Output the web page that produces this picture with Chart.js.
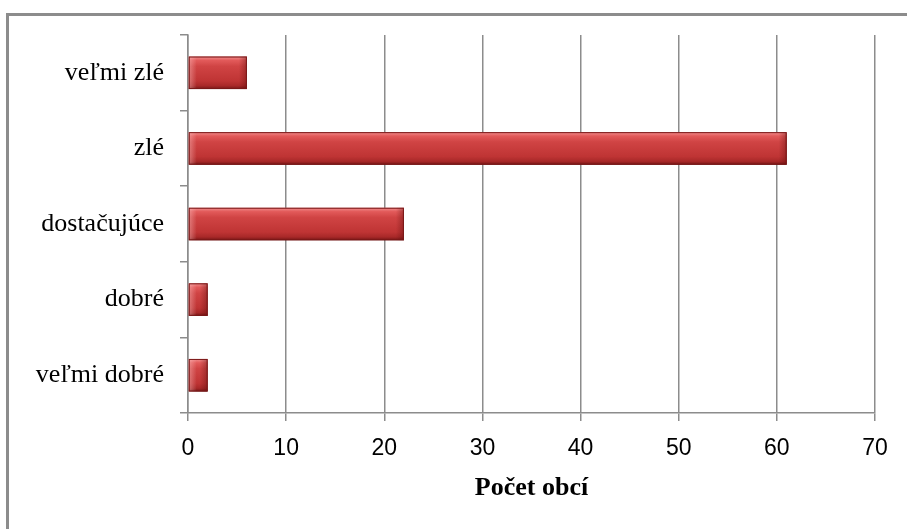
<!DOCTYPE html>
<html>
<head>
<meta charset="utf-8">
<script src="https://cdn.jsdelivr.net/npm/chart.js@4.4.1/dist/chart.umd.min.js"></script>
<style>
  html, body { margin: 0; padding: 0; background: #fff; }
  #wrap { position: relative; width: 907px; height: 529px; overflow: hidden; }
  #frame { position: absolute; left: 6px; top: 13px; width: 1000px; height: 600px;
           border: 3px solid #8c8c8c; box-sizing: border-box; }
  canvas { position: absolute; left: 0; top: 0; }
</style>
</head>
<body>
<div id="wrap">
  <div id="frame"></div>
  <canvas id="chart" width="907" height="529"></canvas>
</div>
<script>
// hodnotenie -> pocet obci
var categories = ['veľmi zlé', 'zlé', 'dostačujúce', 'dobré', 'veľmi dobré'];
var counts = [6, 61, 22, 2, 2];
var xTicks = [0, 10, 20, 30, 40, 50, 60, 70];

var gridGray = '#8c8c8c';

// shadow under bars, then a bevel-like shading painted over each bar element
var barShading = {
	id: 'barShading',
	beforeDatasetsDraw: function(chart) {
		var ctx = chart.ctx;
		ctx.save();
		ctx.shadowColor = 'rgba(0,0,0,0.35)';
		ctx.shadowBlur = 5;
		ctx.shadowOffsetX = 2;
		ctx.shadowOffsetY = 3;
	},
	afterDatasetsDraw: function(chart) {
		var ctx = chart.ctx;
		ctx.restore();
		chart.getDatasetMeta(0).data.forEach(function(bar) {
			var left = Math.min(bar.base, bar.x);
			var right = Math.max(bar.base, bar.x);
			var top = bar.y - bar.height / 2;
			var bottom = bar.y + bar.height / 2;
			var g = ctx.createLinearGradient(0, top, 0, bottom);
			g.addColorStop(0, '#f29090');
			g.addColorStop(0.12, '#e25a5a');
			g.addColorStop(0.3, '#d04444');
			g.addColorStop(0.75, '#bf3434');
			g.addColorStop(0.9, '#a82828');
			g.addColorStop(1, '#741616');
			ctx.save();
			ctx.fillStyle = g;
			ctx.fillRect(left, top, right - left, bottom - top);
			// left bevel
			var bev = Math.min(8, (right - left) / 2);
			var gl = ctx.createLinearGradient(left, 0, left + bev, 0);
			gl.addColorStop(0, 'rgba(255,200,200,0.45)');
			gl.addColorStop(1, 'rgba(255,200,200,0)');
			ctx.fillStyle = gl;
			ctx.fillRect(left, top, bev, bottom - top);
			// right bevel
			var gr = ctx.createLinearGradient(right - bev, 0, right, 0);
			gr.addColorStop(0, 'rgba(90,10,10,0)');
			gr.addColorStop(1, 'rgba(90,10,10,0.4)');
			ctx.fillStyle = gr;
			ctx.fillRect(right - bev, top, bev, bottom - top);
			ctx.strokeStyle = '#7a1818';
			ctx.lineWidth = 1;
			ctx.strokeRect(left + 0.5, top + 0.5, right - left - 1, bottom - top - 1);
			ctx.restore();
		});
	}
};

var ctx = document.getElementById('chart');
new Chart(ctx, {
	type: 'bar',
	data: {
		labels: categories,
		datasets: [{
			label: 'Počet obcí',
			data: counts,
			backgroundColor: '#c83636',
			borderColor: '#7a1818',
			borderWidth: 1,
			categoryPercentage: 1,
			barPercentage: 0.43
		}]
	},
	options: {
		indexAxis: 'y',
		responsive: false,
		animation: false,
		layout: {
			padding: { left: 0, top: 35, right: 32, bottom: 0 }
		},
		plugins: {
			legend: { display: false },
			tooltip: { enabled: false }
		},
		scales: {
			x: {
				min: 0,
				max: 70,
				afterBuildTicks: function(scale) {
					scale.ticks = xTicks.map(function(v) { return { value: v }; });
				},
				afterFit: function(scale) {
					scale.height = 529 - 35 - 378;
				},
				grid: {
					color: gridGray,
					lineWidth: 1.5,
					tickLength: 8,
					drawTicks: true
				},
				border: { display: true, color: gridGray, width: 1.5 },
				ticks: {
					padding: 14,
					color: '#000',
					font: { family: 'Liberation Sans', size: 23 }
				},
				title: {
					display: true,
					text: 'Počet obcí',
					color: '#000',
					font: { family: 'Liberation Serif', size: 26, weight: 'bold' },
					padding: { top: 0, bottom: 25 }
				}
			},
			y: {
				afterFit: function(scale) {
					scale.width = 188;
				},
				grid: {
					display: true,
					drawOnChartArea: false,
					color: gridGray,
					lineWidth: 1.5,
					tickLength: 8
				},
				border: { display: true, color: gridGray, width: 1.5 },
				ticks: {
					padding: 16,
					color: '#000',
					font: { family: 'Liberation Serif', size: 26 }
				}
			}
		}
	},
	plugins: [barShading]
});
</script>
</body>
</html>
